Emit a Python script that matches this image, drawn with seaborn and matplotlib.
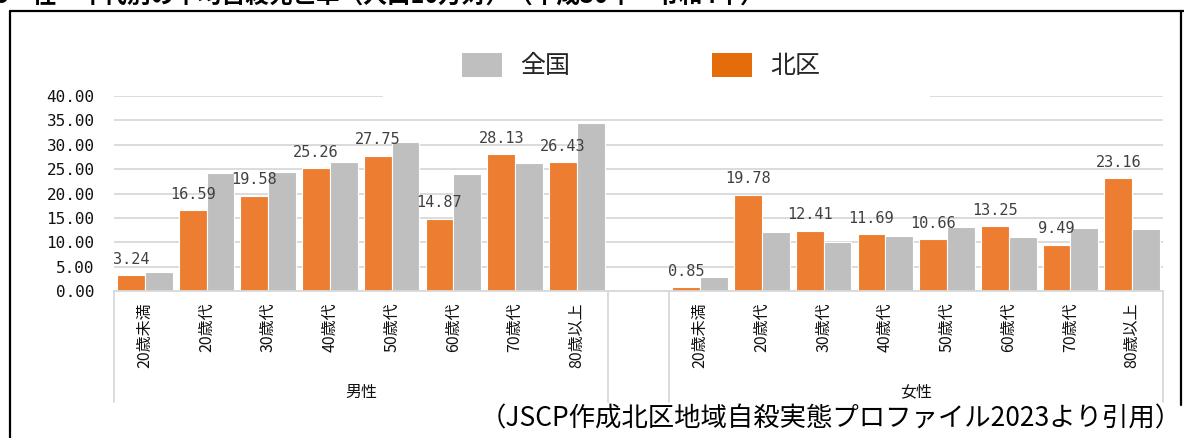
import pandas as pd
import seaborn as sns
import matplotlib.pyplot as plt
from matplotlib.lines import Line2D
from matplotlib.patches import Patch, Rectangle

ages = ["20歳未満", "20歳代", "30歳代", "40歳代", "50歳代", "60歳代", "70歳代", "80歳以上"]
kita_male = [3.24, 16.59, 19.58, 25.26, 27.75, 14.87, 28.13, 26.43]
kita_female = [0.85, 19.78, 12.41, 11.69, 10.66, 13.25, 9.49, 23.16]
zenkoku_male = [3.9, 24.3, 24.4, 26.4, 30.5, 24.0, 26.3, 34.4]
zenkoku_female = [2.8, 12.2, 10.0, 11.2, 13.1, 11.1, 12.9, 12.7]

rows = []
for sex, kita, zen in [("男性", kita_male, zenkoku_male), ("女性", kita_female, zenkoku_female)]:
    for a, k, z in zip(ages, kita, zen):
        rows.append({"cat": f"{sex}|{a}", "area": "北区", "rate": k})
        rows.append({"cat": f"{sex}|{a}", "area": "全国", "rate": z})
df = pd.DataFrame(rows)
order = [f"男性|{a}" for a in ages] + ["gap"] + [f"女性|{a}" for a in ages]

sns.set_theme(style="white")
plt.rcParams["font.family"] = ["Noto Sans CJK JP", "DejaVu Sans"]

ORANGE = "#ED7D31"
GRAY = "#BFBFBF"

fig = plt.figure(figsize=(11.84, 4.38), dpi=100)
ax = fig.add_axes([114 / 1184, 1 - 291 / 438, (1163 - 114) / 1184, 195 / 438])

sns.barplot(data=df, x="cat", y="rate", hue="area", order=order,
            hue_order=["北区", "全国"], palette=[ORANGE, GRAY], saturation=1,
            width=0.9, edgecolor="white", linewidth=0.8, legend=False, ax=ax)

ax.bar_label(ax.containers[0], fmt="%.2f", padding=6, fontsize=11,
             color="#404040", family="DejaVu Sans Mono")

ax.set_ylim(0, 40)
ax.set_xlim(-0.5, len(order) - 0.5)
ax.set_yticks(range(0, 41, 5))
ax.set_yticklabels([f"{v:.2f}" for v in range(0, 41, 5)], family="DejaVu Sans Mono",
                   fontsize=11.5, color="#111111")
ax.yaxis.grid(True, color="#D9D9D9", linewidth=1.3)
ax.set_axisbelow(True)
ax.tick_params(axis="y", length=0, pad=14)
ax.tick_params(axis="x", length=0, pad=8)

ax.set_xticks([i for i, c in enumerate(order) if c != "gap"])
ax.set_xticklabels([c.split("|")[1] for c in order if c != "gap"],
                   rotation=90, fontsize=11.5, color="#111111")
ax.set_xlabel("")
ax.set_ylabel("")
for s in ["left", "right", "top"]:
    ax.spines[s].set_visible(False)
ax.spines["bottom"].set_color("#D9D9D9")
ax.spines["bottom"].set_linewidth(1.3)

# category group separators and labels
trans = ax.get_xaxis_transform()
for xb in [-0.5, 7.5, 8.5, 16.5]:
    ax.plot([xb, xb], [0, -0.57], transform=trans, color="#D9D9D9",
            linewidth=1.3, clip_on=False)
ax.text(3.5, -0.518, "男性", transform=trans, ha="center", va="center",
        fontsize=11.5, color="#111111")
ax.text(12.5, -0.518, "女性", transform=trans, ha="center", va="center",
        fontsize=11.5, color="#111111")

# white area behind the legend hides the top gridline there
fig.add_artist(Rectangle((383 / 1184, 1 - 102 / 438), (930 - 383) / 1184, 60 / 438,
                         transform=fig.transFigure, facecolor="white",
                         edgecolor="none", zorder=3))
handles = [Patch(facecolor=GRAY, edgecolor="none", label="全国"),
           Patch(facecolor="#E46C0A", edgecolor="none", label="北区")]
leg = fig.legend(handles=handles, loc="center", bbox_to_anchor=(641 / 1184, 1 - 66 / 438),
                 ncol=2, fontsize=18, frameon=False, handlelength=1.6, handleheight=1.1,
                 handletextpad=0.7, columnspacing=5.7)
leg.set_zorder(4)

# frame around the chart
fig.add_artist(Line2D([10 / 1184, 10 / 1184], [0, 1 - 11 / 438], color="black", linewidth=1.6))
fig.add_artist(Line2D([10 / 1184, 1], [1 - 11 / 438, 1 - 11 / 438], color="black", linewidth=1.6))
fig.add_artist(Line2D([1181 / 1184, 1181 / 1184], [1 - 405 / 438, 1 - 11 / 438],
                      color="black", linewidth=1.6))

fig.text(-0.004, 1 - 9 / 438, "5　性・年代別の平均自殺死亡率（人口10万対）（平成30年～令和4年）",
         ha="left", va="bottom", fontsize=17, fontweight="bold", color="black")
fig.text(1182 / 1184, 1 - 419 / 438, "（JSCP作成北区地域自殺実態プロファイル2023より引用）",
         ha="right", va="center", fontsize=19, color="black")

fig.savefig("out.png", dpi=100)
